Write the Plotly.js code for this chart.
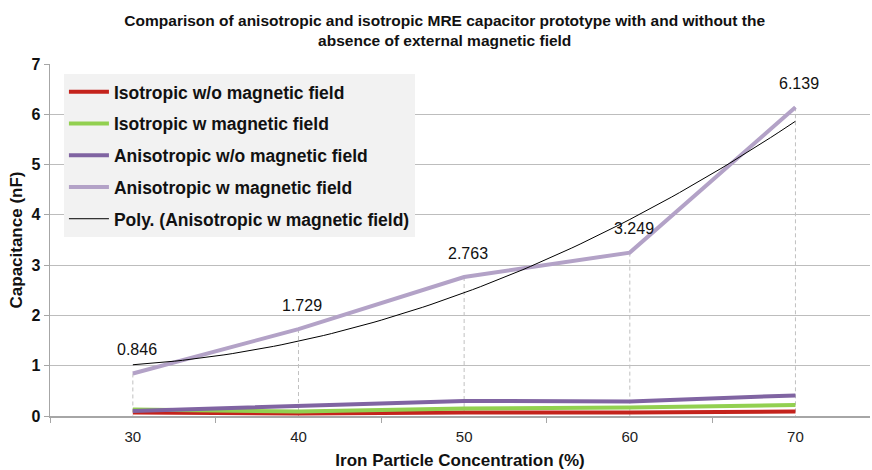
<!DOCTYPE html>
<html>
<head>
<meta charset="utf-8">
<script src="https://cdn.plot.ly/plotly-3.0.1.min.js"></script>
<style>html,body{margin:0;padding:0;background:#fff;}#chart{width:872px;height:470px;}</style>
</head>
<body>
<div id="chart"></div>
<script>
// Data
const categories = ["30", "40", "50", "60", "70"];
const isoNoField = [0.07, 0.05, 0.07, 0.07, 0.09];
const isoField = [0.13, 0.09, 0.15, 0.17, 0.22];
const anisoNoField = [0.10, 0.20, 0.30, 0.29, 0.41];
const anisoField = [0.846, 1.729, 2.763, 3.249, 6.139];
const anisoLabels = ["0.846", "1.729", "2.763", "3.249", "6.139"];

// 2nd-order least-squares polynomial trendline of anisoField (as Excel "Poly.")
function polyFit2(ys) {
  const n = ys.length;
  const xs = ys.map((_, i) => i + 1);
  let S = [0,0,0,0,0], T = [0,0,0];
  for (let i = 0; i < n; i++) {
    for (let k = 0; k < 5; k++) S[k] += Math.pow(xs[i], k);
    for (let k = 0; k < 3; k++) T[k] += ys[i] * Math.pow(xs[i], k);
  }
  const A = [[S[0],S[1],S[2]],[S[1],S[2],S[3]],[S[2],S[3],S[4]]];
  const b = T.slice();
  for (let c = 0; c < 3; c++) {
    for (let r = c + 1; r < 3; r++) {
      const f = A[r][c] / A[c][c];
      for (let k = c; k < 3; k++) A[r][k] -= f * A[c][k];
      b[r] -= f * b[c];
    }
  }
  const coef = [0,0,0];
  for (let r = 2; r >= 0; r--) {
    let s = b[r];
    for (let k = r + 1; k < 3; k++) s -= A[r][k] * coef[k];
    coef[r] = s / A[r][r];
  }
  return coef;
}
const coef = polyFit2(anisoField);
const trendX = [], trendY = [];
for (let t = 0; t <= 4.0001; t += 0.05) {
  const xv = t + 1;
  trendX.push(t);
  trendY.push(coef[0] + coef[1] * xv + coef[2] * xv * xv);
}

// drop lines
const dropX = [], dropY = [];
categories.forEach((c, i) => { dropX.push(c, c, null); dropY.push(anisoField[i], 0, null); });

const lw = 4;
const traces = [
  {x: dropX, y: dropY, mode: 'lines', line: {color: '#c0c0c0', width: 1, dash: '4px,3px'}, showlegend: false, hoverinfo: 'skip'},
  {x: categories, y: isoNoField, name: 'Isotropic w/o magnetic field', mode: 'lines', line: {color: '#c4231c', width: lw}, legendgroup: 'a'},
  {x: categories, y: isoField, name: 'Isotropic w magnetic field', mode: 'lines', line: {color: '#92d050', width: lw}, legendgroup: 'b'},
  {x: categories, y: anisoNoField, name: 'Anisotropic w/o magnetic field', mode: 'lines', line: {color: '#8064a2', width: lw}, legendgroup: 'c'},
  {x: categories, y: anisoField, name: 'Anisotropic w magnetic field', mode: 'lines', line: {color: '#b3a2c7', width: lw}, legendgroup: 'd'},
  {x: trendX, y: trendY, xaxis: 'x2', name: 'Poly. (Anisotropic w magnetic field)', mode: 'lines', line: {color: '#000000', width: 1}, legendgroup: 'e'}
];

const annotations = categories.map((c, i) => ({
  x: i, y: anisoField[i], xref: 'x2', yref: 'y', text: anisoLabels[i], showarrow: false,
  yshift: 24, xshift: 4, font: {family: 'Liberation Sans, Arial, sans-serif', size: 16, color: '#111'}
}));

const layout = {
  width: 872, height: 470,
  margin: {l: 50, r: 2, t: 64, b: 54},
  paper_bgcolor: '#fff', plot_bgcolor: '#fff',
  font: {family: 'Liberation Sans, Arial, sans-serif', color: '#111'},
  title: {
    text: '<b>Comparison of anisotropic and isotropic MRE capacitor prototype with and without the<br>absence of external magnetic field</b>',
    x: 0.51, xanchor: 'center', y: 0.945, yanchor: 'top',
    font: {family: 'Liberation Sans, Arial, sans-serif', size: 15.5, color: '#111'}
  },
  xaxis: {
    type: 'category', range: [-0.5, 4.45], showgrid: false,
    showline: true, linecolor: '#a6a6a6', linewidth: 1.5,
    ticks: 'outside', tickson: 'boundaries', ticklen: 5, tickcolor: '#a6a6a6',
    tickfont: {size: 15, color: '#222'}, ticklabelstandoff: 6,
    title: {text: '<b>Iron Particle Concentration (%)</b>', font: {size: 17, color: '#111'}, standoff: 10},
    zeroline: false, fixedrange: true
  },
  xaxis2: {overlaying: 'x', range: [-0.5, 4.45], visible: false, fixedrange: true},
  yaxis: {
    range: [0, 7], dtick: 1, showgrid: true, gridcolor: '#bdbdbd', gridwidth: 1,
    showline: true, linecolor: '#a6a6a6', linewidth: 1.5,
    ticks: 'outside', ticklen: 5, tickcolor: '#a6a6a6',
    tickfont: {size: 16, color: '#111', weight: 'bold'},
    title: {text: '<b>Capacitance (nF)</b>', font: {size: 17, color: '#111'}, standoff: 4},
    zeroline: false, fixedrange: true
  },
  legend: {
    x: 0.017, y: 0.972, xanchor: 'left', yanchor: 'top',
    bgcolor: '#f2f2f2', borderwidth: 0,
    font: {size: 17.5, color: '#111', weight: 'bold'},
    tracegroupgap: 6, itemwidth: 40
  },
  annotations: annotations,
  showlegend: true
};

Plotly.newPlot('chart', traces, layout, {displayModeBar: false, staticPlot: true});
</script>
</body>
</html>
